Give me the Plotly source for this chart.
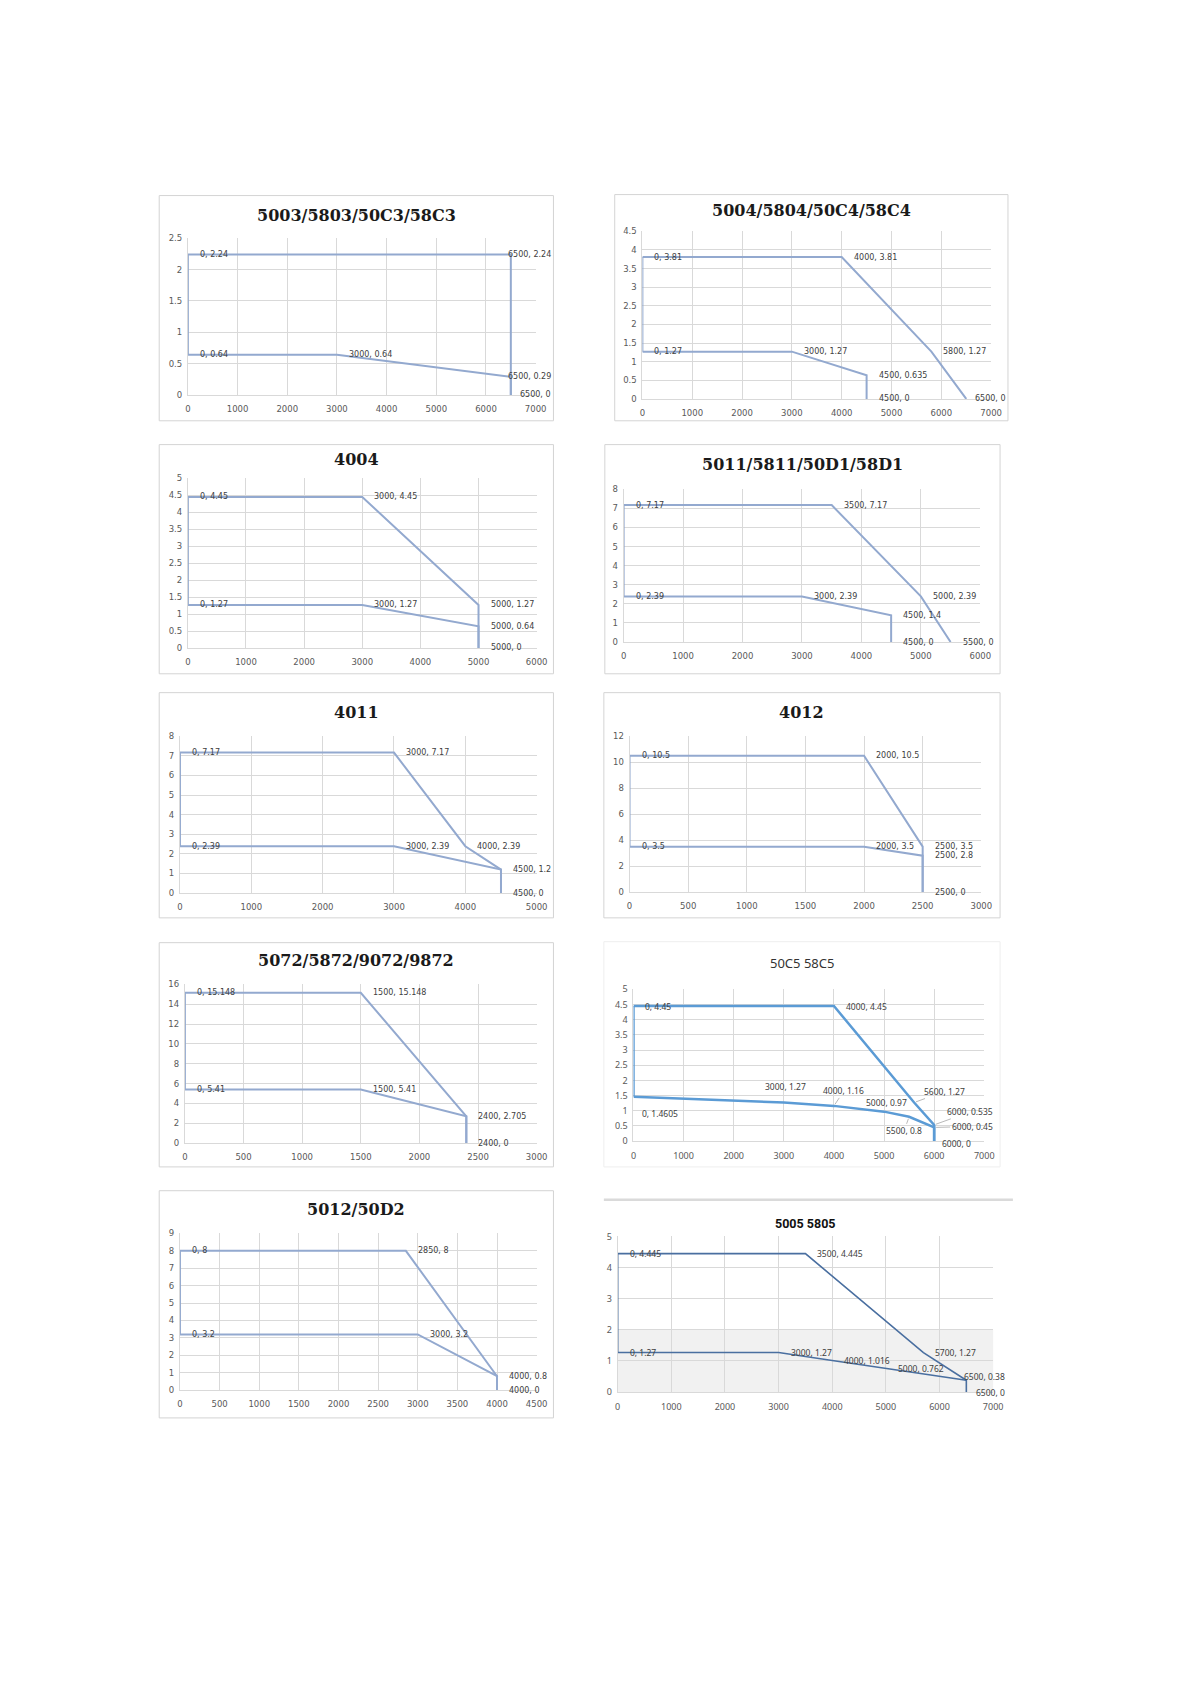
import plotly.graph_objects as go

# ---------------- data ----------------
p1_title = "5003/5803/50C3/58C3"
p1_xticks = [0, 1000, 2000, 3000, 4000, 5000, 6000, 7000]
p1_yticks = [0, 0.5, 1, 1.5, 2, 2.5]
p1_hi_x = [0, 6500, 6500]
p1_hi_y = [2.24, 2.24, 0]
p1_lo_x = [0, 3000, 6500, 6500]
p1_lo_y = [0.64, 0.64, 0.29, 0]

p2_title = "5004/5804/50C4/58C4"
p2_xticks = [0, 1000, 2000, 3000, 4000, 5000, 6000, 7000]
p2_yticks = [0, 0.5, 1, 1.5, 2, 2.5, 3, 3.5, 4, 4.5]
p2_hi_x = [0, 4000, 5800, 6500]
p2_hi_y = [3.81, 3.81, 1.27, 0]
p2_lo_x = [0, 3000, 4500, 4500]
p2_lo_y = [1.27, 1.27, 0.635, 0]

p3_title = "4004"
p3_xticks = [0, 1000, 2000, 3000, 4000, 5000, 6000]
p3_yticks = [0, 0.5, 1, 1.5, 2, 2.5, 3, 3.5, 4, 4.5, 5]
p3_hi_x = [0, 3000, 5000, 5000]
p3_hi_y = [4.45, 4.45, 1.27, 0]
p3_lo_x = [0, 3000, 5000, 5000]
p3_lo_y = [1.27, 1.27, 0.64, 0]

p4_title = "5011/5811/50D1/58D1"
p4_xticks = [0, 1000, 2000, 3000, 4000, 5000, 6000]
p4_yticks = [0, 1, 2, 3, 4, 5, 6, 7, 8]
p4_hi_x = [0, 3500, 5000, 5500]
p4_hi_y = [7.17, 7.17, 2.39, 0]
p4_lo_x = [0, 3000, 4500, 4500]
p4_lo_y = [2.39, 2.39, 1.4, 0]

p5_title = "4011"
p5_xticks = [0, 1000, 2000, 3000, 4000, 5000]
p5_yticks = [0, 1, 2, 3, 4, 5, 6, 7, 8]
p5_hi_x = [0, 3000, 4000, 4500, 4500]
p5_hi_y = [7.17, 7.17, 2.39, 1.2, 0]
p5_lo_x = [0, 3000, 4500, 4500]
p5_lo_y = [2.39, 2.39, 1.2, 0]

p6_title = "4012"
p6_xticks = [0, 500, 1000, 1500, 2000, 2500, 3000]
p6_yticks = [0, 2, 4, 6, 8, 10, 12]
p6_hi_x = [0, 2000, 2500, 2500]
p6_hi_y = [10.5, 10.5, 3.5, 0]
p6_lo_x = [0, 2000, 2500, 2500]
p6_lo_y = [3.5, 3.5, 2.8, 0]

p7_title = "5072/5872/9072/9872"
p7_xticks = [0, 500, 1000, 1500, 2000, 2500, 3000]
p7_yticks = [0, 2, 4, 6, 8, 10, 12, 14, 16]
p7_hi_x = [0, 1500, 2400, 2400]
p7_hi_y = [15.148, 15.148, 2.705, 0]
p7_lo_x = [0, 1500, 2400, 2400]
p7_lo_y = [5.41, 5.41, 2.705, 0]

p8_title = "50C5 58C5"
p8_xticks = [0, 1000, 2000, 3000, 4000, 5000, 6000, 7000]
p8_yticks = [0, 0.5, 1, 1.5, 2, 2.5, 3, 3.5, 4, 4.5, 5]
p8_hi_x = [0, 4000, 5600, 6000, 6000]
p8_hi_y = [4.45, 4.45, 1.27, 0.535, 0]
p8_lo_x = [0, 3000, 4000, 5000, 5500, 6000, 6000]
p8_lo_y = [1.4605, 1.27, 1.16, 0.97, 0.8, 0.45, 0]

p9_title = "5012/50D2"
p9_xticks = [0, 500, 1000, 1500, 2000, 2500, 3000, 3500, 4000, 4500]
p9_yticks = [0, 1, 2, 3, 4, 5, 6, 7, 8, 9]
p9_hi_x = [0, 2850, 4000, 4000]
p9_hi_y = [8, 8, 0.8, 0]
p9_lo_x = [0, 3000, 4000, 4000]
p9_lo_y = [3.2, 3.2, 0.8, 0]

p10_title = "5005 5805"
p10_xticks = [0, 1000, 2000, 3000, 4000, 5000, 6000, 7000]
p10_yticks = [0, 1, 2, 3, 4, 5]
p10_hi_x = [0, 3500, 5700, 6500, 6500]
p10_hi_y = [4.445, 4.445, 1.27, 0.38, 0]
p10_lo_x = [0, 3000, 4000, 5000, 6500]
p10_lo_y = [1.27, 1.27, 1.016, 0.762, 0.38]

# ---------------- styles / geometry (reference pixels) ----------------
OFFX, OFFY = 8, 14
W, H = 1191 - 2 * OFFX, 1684 - OFFY - 12


def fx(px):
    return (px - OFFX) / W


def fy(py):
    return 1 - (py - OFFY) / H


SERIF = dict(kind="serif", line="#93A9CF", lw=2,
             tfont=dict(family="DejaVu Serif", size=16, color="#1a1a1a"), tbold=True,
             tick=dict(family="DejaVu Sans", size=8.5, color="#595959"),
             lab=dict(family="DejaVu Sans", size=8, color="#404040"), border="#D4D4D4")
SANS8 = dict(kind="sans", line="#5B9BD5", lw=2.5,
             tfont=dict(family="Noto Sans", size=13, color="#333333"), tbold=False,
             tick=dict(family="Noto Sans", size=9, color="#595959"),
             lab=dict(family="Noto Sans", size=8.5, color="#404040"), border="#EEEEEE")
SANS10 = dict(kind="sans", line="#4A6FA0", lw=1.6,
              tfont=dict(family="Roboto", size=12.5, color="#111111"), tbold=True,
              tick=dict(family="Noto Sans", size=9, color="#595959"),
              lab=dict(family="Noto Sans", size=8.5, color="#404040"), border=None)

panels = [
    dict(title=p1_title, xt=p1_xticks, yt=p1_yticks, hx=p1_hi_x, hy=p1_hi_y, lx=p1_lo_x, ly=p1_lo_y,
         box=(158, 196, 557, 423), plot=(187, 539, 239, 397), ty=216, st=SERIF, ov={}),
    dict(title=p2_title, xt=p2_xticks, yt=p2_yticks, hx=p2_hi_x, hy=p2_hi_y, lx=p2_lo_x, ly=p2_lo_y,
         box=(619, 195, 1017, 423), plot=(647, 1000, 232, 401), ty=211, st=SERIF, ov={}),
    dict(title=p3_title, xt=p3_xticks, yt=p3_yticks, hx=p3_hi_x, hy=p3_hi_y, lx=p3_lo_x, ly=p3_lo_y,
         box=(158, 447, 557, 678), plot=(187, 540, 481, 652), ty=462, st=SERIF, ov={}),
    dict(title=p4_title, xt=p4_xticks, yt=p4_yticks, hx=p4_hi_x, hy=p4_hi_y, lx=p4_lo_x, ly=p4_lo_y,
         box=(609, 447, 1009, 678), plot=(628, 989, 492, 646), ty=467, st=SERIF, ov={}),
    dict(title=p5_title, xt=p5_xticks, yt=p5_yticks, hx=p5_hi_x, hy=p5_hi_y, lx=p5_lo_x, ly=p5_lo_y,
         box=(158, 697, 557, 924), plot=(179, 540, 741, 899), ty=717, st=SERIF, ov={}),
    dict(title=p6_title, xt=p6_xticks, yt=p6_yticks, hx=p6_hi_x, hy=p6_hi_y, lx=p6_lo_x, ly=p6_lo_y,
         box=(608, 697, 1009, 924), plot=(634, 990, 741, 898), ty=717, st=SERIF, ov={}),
    dict(title=p7_title, xt=p7_xticks, yt=p7_yticks, hx=p7_hi_x, hy=p7_hi_y, lx=p7_lo_x, ly=p7_lo_y,
         box=(158, 949, 557, 1175), plot=(184, 540, 991, 1151), ty=967, st=SERIF, ov={}),
    dict(title=p8_title, xt=p8_xticks, yt=p8_yticks, hx=p8_hi_x, hy=p8_hi_y, lx=p8_lo_x, ly=p8_lo_y,
         box=(608, 948, 1009, 1175), plot=(638, 993, 996, 1149), ty=969, st=SANS8,
         ov={("h", 2): dict(arrow=True, dx=30, dy=-11),
             ("h", 3): dict(arrow=True, dx=36, dy=-13),
             ("h", 4): dict(dx=6, dy=2),
             ("l", 0): dict(dx=7, dy=17),
             ("l", 1): dict(center=True, dx=2, dy=-16),
             ("l", 2): dict(arrow=True, dx=10, dy=-15),
             ("l", 3): dict(center=True, dx=2, dy=-9),
             ("l", 4): dict(arrow=True, dx=-5, dy=14),
             ("l", 5): dict(arrow=True, dx=38, dy=-1)}),
    dict(title=p9_title, xt=p9_xticks, yt=p9_yticks, hx=p9_hi_x, hy=p9_hi_y, lx=p9_lo_x, ly=p9_lo_y,
         box=(158, 1199, 557, 1428), plot=(179, 540, 1242, 1400), ty=1218, st=SERIF, ov={}),
    dict(title=p10_title, xt=p10_xticks, yt=p10_yticks, hx=p10_hi_x, hy=p10_hi_y, lx=p10_lo_x, ly=p10_lo_y,
         box=(608, 1208, 1016, 1440), plot=(622, 1002, 1245, 1402), ty=1232, st=SANS10,
         ov={("h", 3): dict(dx=10, dy=-4)}, shade=True),
]


def fmt(v):
    return f"{v:g}"


def text_w(s, st):
    size = st["lab"]["size"]
    if st["kind"] == "serif":
        d, p = 0.636 * size, 0.318 * size
    else:
        d, p = 0.572 * size, 0.26 * size
    return sum(d if c.isdigit() else p for c in s)


fig = go.Figure()
layout = dict(width=W, height=H, margin=dict(l=0, r=0, t=0, b=0),
              paper_bgcolor="white", plot_bgcolor="rgba(0,0,0,0)", showlegend=False)
shapes, annotations = [], []

for i, p in enumerate(panels, start=1):
    st = p["st"]
    xa = "x" if i == 1 else f"x{i}"
    ya = "y" if i == 1 else f"y{i}"
    x0, x1, yt_, yb_ = p["plot"]
    bx0, by0, bx1, by1 = p["box"]
    xmax, ymax = p["xt"][-1], p["yt"][-1]

    layout["xaxis" if i == 1 else f"xaxis{i}"] = dict(
        domain=[fx(x0), fx(x1)], range=[0, xmax], anchor=ya,
        tickvals=p["xt"], ticktext=[fmt(v) for v in p["xt"]],
        showgrid=True, gridcolor="#D9D9D9", gridwidth=1, zeroline=False,
        showline=True, linecolor="#D9D9D9", linewidth=1,
        ticks="outside", ticklen=6, tickcolor="rgba(0,0,0,0)", tickfont=st["tick"], fixedrange=True)
    layout["yaxis" if i == 1 else f"yaxis{i}"] = dict(
        domain=[fy(yb_), fy(yt_)], range=[0, ymax], anchor=xa,
        tickvals=p["yt"], ticktext=[fmt(v) for v in p["yt"]],
        showgrid=True, gridcolor="#D9D9D9", gridwidth=1, zeroline=False,
        showline=True, linecolor="#D9D9D9", linewidth=1,
        ticks="outside", ticklen=3, tickcolor="rgba(0,0,0,0)", tickfont=st["tick"], fixedrange=True)

    # chart-area border
    if st["border"]:
        shapes.append(dict(type="rect", xref="paper", yref="paper",
                           x0=fx(bx0), x1=fx(bx1), y0=fy(by1), y1=fy(by0),
                           line=dict(color=st["border"], width=1), fillcolor="rgba(0,0,0,0)", layer="below"))
    else:
        shapes.append(dict(type="line", xref="paper", yref="paper",
                           x0=fx(bx0), x1=fx(bx1 + 6), y0=fy(by0), y1=fy(by0),
                           line=dict(color="#DADADA", width=2.5), layer="below"))
    if p.get("shade"):
        shapes.append(dict(type="rect", xref=f"{xa} domain", yref=ya, x0=0, x1=1, y0=0, y1=2,
                           fillcolor="#F1F1F1", line=dict(width=0), layer="below"))

    # title
    ttext = f"<b>{p['title']}</b>" if st["tbold"] else p["title"]
    annotations.append(dict(text=ttext, xref="paper", yref="paper", x=fx((bx0 + bx1) / 2), y=fy(p["ty"]),
                            xanchor="center", yanchor="middle", showarrow=False, font=st["tfont"]))

    # series
    line = dict(color=st["line"], width=st["lw"])
    fig.add_trace(go.Scatter(x=[p["hx"][0], p["lx"][0]], y=[p["hy"][0], p["ly"][0]], mode="lines",
                             line=line, xaxis=xa, yaxis=ya, hoverinfo="skip"))
    fig.add_trace(go.Scatter(x=p["hx"], y=p["hy"], mode="lines", line=line, xaxis=xa, yaxis=ya))
    fig.add_trace(go.Scatter(x=p["lx"], y=p["ly"], mode="lines", line=line, xaxis=xa, yaxis=ya))

    # data labels
    seen = set()
    pts = [("h", k, xv, yv) for k, (xv, yv) in enumerate(zip(p["hx"], p["hy"]))] + \
          [("l", k, xv, yv) for k, (xv, yv) in enumerate(zip(p["lx"], p["ly"]))]
    for s, k, xv, yv in pts:
        if (xv, yv) in seen:
            continue
        seen.add((xv, yv))
        txt = f"{fmt(xv)}, {fmt(yv)}"
        o = p["ov"].get((s, k), {})
        ann = dict(text=txt, xref=xa, yref=ya, x=xv, y=yv, font=st["lab"], yanchor="middle")
        if o.get("arrow"):
            ann.update(showarrow=True, ax=o["dx"], ay=o["dy"], arrowhead=0, arrowwidth=0.8,
                       arrowcolor="#A6A6A6", standoff=2, xanchor="center")
        elif o.get("center"):
            ann.update(showarrow=False, xanchor="center", xshift=o["dx"], yshift=-o["dy"])
        else:
            dx = o.get("dx", 10)
            px = x0 + (xv / xmax) * (x1 - x0)
            w = text_w(txt, st)
            limit = bx1 - 5
            if px + dx + w > limit:
                dx = limit - w - px
            ann.update(showarrow=False, xanchor="left", xshift=dx, yshift=-o.get("dy", 0))
        annotations.append(ann)

layout["shapes"] = shapes
layout["annotations"] = annotations
fig.update_layout(**layout)
fig.write_html("out.html")
